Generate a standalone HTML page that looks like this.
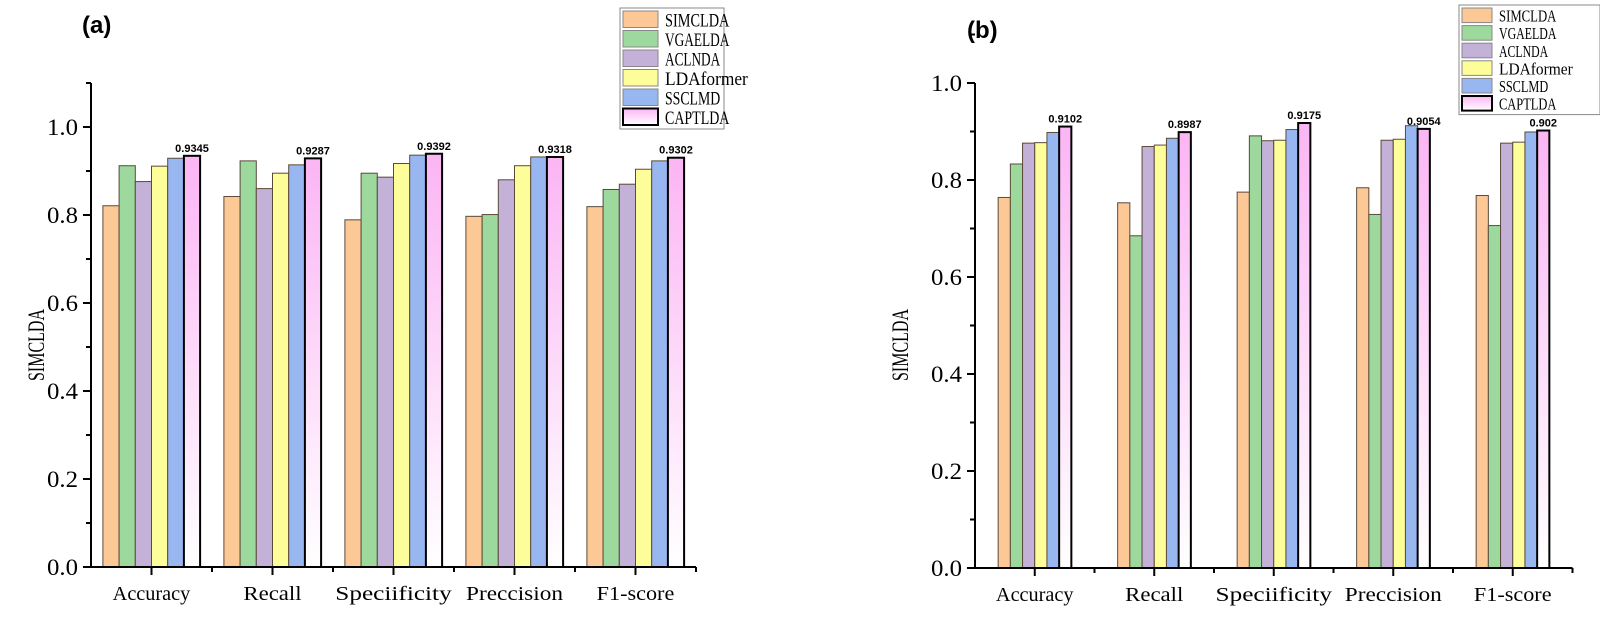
<!DOCTYPE html>
<html><head><meta charset="utf-8"><style>
html,body{margin:0;padding:0;background:#fff;}
svg{display:block;}
text{fill:#000;}
</style></head><body>
<svg id="chart" width="1600" height="617" viewBox="0 0 1600 617" xmlns="http://www.w3.org/2000/svg">
<defs>
<linearGradient id="pinkGrad" x1="0" y1="0" x2="0" y2="1">
<stop offset="0" stop-color="#fbb5f4"/><stop offset="1" stop-color="#ffffff"/>
</linearGradient>
</defs>
</svg>
<script>
const categories = ["Accuracy","Recall","Speciificity","Preccision","F1-score"];
const seriesNames = ["SIMCLDA","VGAELDA","ACLNDA","LDAformer","SSCLMD","CAPTLDA"];
const seriesA_SIMCLDA = [0.821,0.842,0.789,0.797,0.819];
const seriesA_VGAELDA = [0.912,0.923,0.895,0.801,0.858];
const seriesA_ACLNDA = [0.876,0.860,0.886,0.880,0.870];
const seriesA_LDAformer = [0.911,0.895,0.917,0.912,0.904];
const seriesA_SSCLMD = [0.929,0.914,0.936,0.932,0.923];
const seriesA_CAPTLDA = [0.9345,0.9287,0.9392,0.9318,0.9302];
const labelsA = ["0.9345","0.9287","0.9392","0.9318","0.9302"];
const seriesB_SIMCLDA = [0.764,0.753,0.775,0.784,0.768];
const seriesB_VGAELDA = [0.833,0.685,0.891,0.729,0.706];
const seriesB_ACLNDA = [0.876,0.869,0.881,0.882,0.876];
const seriesB_LDAformer = [0.877,0.872,0.882,0.884,0.878];
const seriesB_SSCLMD = [0.898,0.886,0.904,0.912,0.899];
const seriesB_CAPTLDA = [0.9102,0.8987,0.9175,0.9054,0.902];
const labelsB = ["0.9102","0.8987","0.9175","0.9054","0.902"];
const yTicksA = [0.0,0.2,0.4,0.6,0.8,1.0];
const yTicksB = [0.0,0.2,0.4,0.6,0.8,1.0];

const NS = "http://www.w3.org/2000/svg";
const svg = document.getElementById("chart");
const fills = ["#fcc896","#9dd89c","#c3b1d8","#fdfd9a","#98b7f0","url(#pinkGrad)"];
const SERIF = "Liberation Serif, serif";
function mk(tag, attrs, parent){const e=document.createElementNS(NS,tag);for(const k in attrs)e.setAttribute(k,attrs[k]);(parent||svg).appendChild(e);return e;}

function panel(cfg){
  const g = mk("g",{});
  
  
  const y = v => cfg.y0 - (v - 0) * cfg.pxPerUnit;
  const groupW = cfg.spacing;
  const xCenter = i => cfg.x0 + groupW*(i+0.5);
  cfg.series.forEach((vals, s) => {
    vals.forEach((v, i) => {
      const bx = xCenter(i) - cfg.barW*3 + s*cfg.barW;
      const r = mk("rect",{x:bx,y:y(v),width:cfg.barW,height:cfg.y0-y(v),fill:fills[s],stroke:s===5?"#000":"#5a4a3a","stroke-width":s===5?2:1},g);
      
      
      if (s===5){
        const t = mk("text",{x:bx+cfg.barW/2,y:y(v)-4,"text-anchor":"middle","font-family":"Liberation Sans, sans-serif","font-weight":"bold","font-size":"11"},g);
        t.textContent = cfg.labels[i];
        
        
      }
    });
  });
  const xEnd = cfg.x0 + groupW*categories.length;
  const ax = mk("line",{x1:cfg.x0,y1:cfg.yTop,x2:cfg.x0,y2:cfg.y0+1,stroke:"#000","stroke-width":2},g);
  
  
  const bx = mk("line",{x1:cfg.x0-8,y1:cfg.y0,x2:xEnd,y2:cfg.y0,stroke:"#000","stroke-width":2},g);
  
  
  cfg.yTicks.forEach(v => {
    mk("line",{x1:cfg.x0-8,y1:y(v),x2:cfg.x0,y2:y(v),stroke:"#000","stroke-width":2},g);
    mk("line",{x1:cfg.x0-5,y1:y(v+0.1),x2:cfg.x0,y2:y(v+0.1),stroke:"#000","stroke-width":2},g);
    const t = mk("text",{x:cfg.x0-13,y:y(v)+8,"text-anchor":"end","font-family":SERIF,"font-size":"23",textLength:31,lengthAdjust:"spacingAndGlyphs"},g);
    t.textContent = v.toFixed(1);
    
    
  });
  categories.forEach((c,i) => {
    mk("line",{x1:xCenter(i),y1:cfg.y0,x2:xCenter(i),y2:cfg.y0+8,stroke:"#000","stroke-width":2},g);
    mk("line",{x1:cfg.x0+groupW*(i+1),y1:cfg.y0,x2:cfg.x0+groupW*(i+1),y2:cfg.y0+5,stroke:"#000","stroke-width":2},g);
    const t = mk("text",{x:xCenter(i),y:cfg.y0+33,"text-anchor":"middle","font-family":SERIF,"font-size":"20",textLength:c.length*cfg.charW,lengthAdjust:"spacingAndGlyphs"},g);
    t.textContent = c;
    
    
  });
  const yt = mk("text",{x:0,y:0,"text-anchor":"middle","font-family":SERIF,"font-size":"23",textLength:72,lengthAdjust:"spacingAndGlyphs",transform:`translate(${cfg.titleX},${cfg.titleY}) rotate(-90)`},g);
  yt.textContent = "SIMCLDA";
  
  
  const pl = mk("text",{x:cfg.letterX,y:cfg.letterY,"font-family":"Liberation Sans, sans-serif","font-weight":"bold","font-size":"24"},g);
  pl.textContent = cfg.letter;
  
  
  const L = cfg.legend;
  const lg = mk("g",{},g);
  
  
  mk("rect",{x:L.x,y:L.y,width:L.w,height:L.rowH*6+4,fill:"#fff",stroke:"#888","stroke-width":1},lg);
  seriesNames.forEach((n,s) => {
    const ry = L.y + 3 + s*L.rowH;
    const sw = mk("rect",{x:L.x+3,y:ry,width:L.swW,height:L.rowH-3,fill:fills[s],stroke:s===5?"#000":"#888","stroke-width":s===5?2:1},lg);
    
    
    const t = mk("text",{x:L.x+L.swW+10,y:ry+L.rowH-4,"font-family":SERIF,"font-size":L.fs,textLength:n.length*L.cw,lengthAdjust:"spacingAndGlyphs"},lg);
    t.textContent = n;
    
    
  });
}

panel({name:"panel-a",x0:91,y0:567,pxPerUnit:440,yTop:83,spacing:121,barW:16.2,charW:9.7,
  series:[seriesA_SIMCLDA,seriesA_VGAELDA,seriesA_ACLNDA,seriesA_LDAformer,seriesA_SSCLMD,seriesA_CAPTLDA],
  labels:labelsA,yTicks:yTicksA,titleX:44,titleY:345,letter:"(a)",letterX:82,letterY:33,
  legend:{x:620,y:8,w:104,rowH:19.5,swW:35,fs:19,cw:9.2}});
panel({name:"panel-b",x0:975,y0:568,pxPerUnit:485,yTop:83,spacing:119.5,barW:12.2,charW:9.7,
  series:[seriesB_SIMCLDA,seriesB_VGAELDA,seriesB_ACLNDA,seriesB_LDAformer,seriesB_SSCLMD,seriesB_CAPTLDA],
  labels:labelsB,yTicks:yTicksB,titleX:908,titleY:345,letter:"(b)",letterX:967,letterY:38,
  legend:{x:1459,y:5,w:141,rowH:17.6,swW:30,fs:17,cw:8.2}});
</script>
</body></html>
